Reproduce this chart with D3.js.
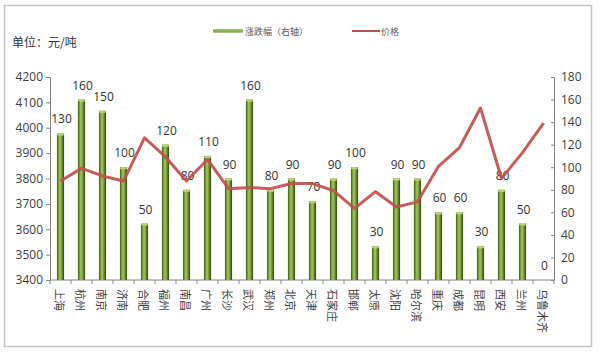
<!DOCTYPE html>
<html><head><meta charset="utf-8">
<script src="https://cdn.jsdelivr.net/npm/d3@7"></script>
<style>
html,body{margin:0;padding:0;background:#fff;}
svg{display:block;font-family:"Open Sans","Noto Sans CJK SC",sans-serif;}
</style></head>
<body>
<svg id="c" width="600" height="355"></svg>
<script>
const categories = ["上海","杭州","南京","济南","合肥","福州","南昌","广州","长沙","武汉","郑州","北京","天津","石家庄","邯郸","太原","沈阳","哈尔滨","重庆","成都","昆明","西安","兰州","乌鲁木齐"];
const changeValues = [130,160,150,100,50,120,80,110,90,160,80,90,70,90,100,30,90,90,60,60,30,80,50,0];
const priceValues = [3790,3840,3810,3790,3960,3885,3790,3875,3760,3765,3760,3780,3780,3752,3682,3748,3688,3708,3848,3922,4078,3800,3902,4018];
const leftTicks = [3400,3500,3600,3700,3800,3900,4000,4100,4200];
const rightTicks = [0,20,40,60,80,100,120,140,160,180];
const seriesNames = ["涨跌幅（右轴）","价格"];
const unitLabel = "单位：元/吨";

const svg = d3.select("#c");
const L = 50, R = 554, T = 77, B = 280;
const axisColor = "#868686", textColor = "#404040";

// border
svg.append("rect").attr("x",4.5).attr("y",5.5).attr("width",587).attr("height",341)
  .attr("fill","#fff").attr("stroke","#c4c4c4").attr("stroke-width",1.5);

const x = d3.scaleBand().domain(categories).range([L,R]).paddingInner(0.66).paddingOuter(0.33);
const xb = d3.scaleBand().domain(categories).range([L,R]);
const yL = d3.scaleLinear().domain([3400,4200]).range([B,T]);
const yR = d3.scaleLinear().domain([0,180]).range([B,T]);

// gradient for bars
const defs = svg.append("defs");
const g = defs.append("linearGradient").attr("id","barg").attr("x1","0").attr("x2","1").attr("y1","0").attr("y2","0");
[["0%","#3e5a12"],["25%","#7fa23a"],["45%","#a6c667"],["70%","#6f922c"],["100%","#2e450b"]]
  .forEach(([o,c])=>g.append("stop").attr("offset",o).attr("stop-color",c));

// left axis
const la = svg.append("g").attr("transform",`translate(${L},0)`)
  .call(d3.axisLeft(yL).tickValues(leftTicks).tickSize(4).tickPadding(3).tickFormat(d3.format("d")));
la.select(".domain").attr("stroke",axisColor);
la.selectAll(".tick line").attr("stroke",axisColor);
la.selectAll("text").attr("fill",textColor).style("font-size","12px").style("font-family","'Open Sans',sans-serif");

// right axis (ticks inside)
const ra = svg.append("g").attr("transform",`translate(${R},0)`)
  .call(d3.axisRight(yR).tickValues(rightTicks).tickSize(0).tickPadding(7));
ra.select(".domain").attr("stroke",axisColor);
ra.selectAll(".tick").append("line").attr("x1",-3).attr("x2",0).attr("stroke",axisColor);
ra.selectAll("text").attr("fill",textColor).style("font-size","12px").style("font-family","'Open Sans',sans-serif");

// x axis
const xa = svg.append("g").attr("transform",`translate(0,${B})`);
xa.append("line").attr("x1",L).attr("x2",R).attr("stroke",axisColor);
xa.selectAll("line.t").data(categories.concat(["_end"])).enter().append("line").attr("class","t")
  .attr("x1",(d,i)=> i<categories.length ? xb(d) : R)
  .attr("x2",(d,i)=> i<categories.length ? xb(d) : R)
  .attr("y1",0).attr("y2",4).attr("stroke",axisColor);
xa.selectAll("text").data(categories).enter().append("text")
  .attr("transform",d=>`translate(${xb(d)+xb.bandwidth()/2-6},9) rotate(90)`)
  .attr("text-anchor","start").attr("dy","0")
  .attr("fill",textColor).style("font-size","11px").style("font-family","'Noto Sans CJK SC',sans-serif")
  .text(d=>d);

// bars
const bars = svg.append("g");
bars.selectAll("rect").data(categories).enter().append("rect")
  .attr("x",d=>x(d)).attr("width",x.bandwidth())
  .attr("y",(d,i)=>yR(changeValues[i])).attr("height",(d,i)=>B-yR(changeValues[i]))
  .attr("fill","url(#barg)");
bars.selectAll("ellipse").data(categories.filter((d,i)=>changeValues[i]>0)).enter().append("ellipse")
  .attr("cx",d=>x(d)+x.bandwidth()/2).attr("cy",d=>yR(changeValues[categories.indexOf(d)])+1)
  .attr("rx",x.bandwidth()/2).attr("ry",1.3).attr("fill","#b5d078");

// bar labels
svg.append("g").selectAll("text").data(categories).enter().append("text")
  .attr("x",d=>x(d)+x.bandwidth()/2+1).attr("y",(d,i)=>yR(changeValues[i])-10)
  .attr("text-anchor","middle").attr("fill","#333").style("font-size","12px")
  .style("font-family","'Open Sans',sans-serif")
  .text((d,i)=>changeValues[i]);

// price line
const line = d3.line().x(d=>x(d)+x.bandwidth()/2).y(d=>yL(priceValues[categories.indexOf(d)]));
svg.append("path").datum(categories).attr("d",line).attr("fill","none")
  .attr("stroke","#c0504d").attr("stroke-width",3).attr("stroke-linejoin","round").attr("opacity",0.92);

// legend
const lg = svg.append("g");
lg.append("line").attr("x1",213).attr("x2",243).attr("y1",31).attr("y2",31).attr("stroke","#8db04e").attr("stroke-width",3.5);
lg.append("text").attr("x",245).attr("y",34.5).text(seriesNames[0]).attr("fill","#595959").style("font-size","9px").style("font-family","'Noto Sans CJK SC',sans-serif");
lg.append("line").attr("x1",352).attr("x2",380).attr("y1",31).attr("y2",31).attr("stroke","#c0504d").attr("stroke-width",2);
lg.append("text").attr("x",381).attr("y",34.5).text(seriesNames[1]).attr("fill","#595959").style("font-size","9px").style("font-family","'Noto Sans CJK SC',sans-serif");

svg.append("text").attr("x",12).attr("y",47).text(unitLabel).attr("fill","#333").style("font-size","12px")
  .style("font-family","'Noto Sans CJK SC',sans-serif");
</script>
</body></html>
